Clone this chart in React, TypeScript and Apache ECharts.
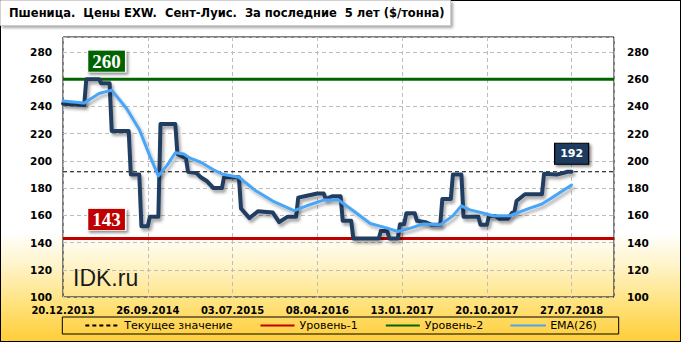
import React, { useEffect, useRef } from "react";
import * as echarts from "echarts";

// ---- axis / tick data ----
const START_DATE = "2013-12-20";
const X_TICK_LABELS = ["20.12.2013", "26.09.2014", "03.07.2015", "08.04.2016", "13.01.2017", "20.10.2017", "27.07.2018"];
const X_TICK_STEP_DAYS = 280;
const X_SPAN_DAYS = 1820;
const Y_MIN = 100;
const Y_MAX = 291;
const Y_STEP = 20;

// ---- levels ----
const LEVEL_1 = 143;
const LEVEL_2 = 260;
const CURRENT_VALUE = 192;

// ---- price series (weekly, breakpoints) ----
const priceDates = [
  "2013-12-20", "2014-02-28", "2014-03-07", "2014-04-18", "2014-04-25", "2014-05-23", "2014-05-30", "2014-07-25",
  "2014-08-01", "2014-08-29", "2014-09-05", "2014-09-26", "2014-10-03", "2014-10-31", "2014-11-07", "2014-12-26",
  "2015-01-02", "2015-01-30", "2015-02-06", "2015-03-06", "2015-03-20", "2015-04-10", "2015-05-01", "2015-05-29",
  "2015-06-05", "2015-07-24", "2015-07-31", "2015-08-28", "2015-09-25", "2015-11-13", "2015-12-04", "2016-01-01",
  "2016-01-29", "2016-02-05", "2016-02-26", "2016-04-08", "2016-04-29", "2016-05-06", "2016-05-27", "2016-06-24",
  "2016-07-01", "2016-07-29", "2016-08-05", "2016-10-28", "2016-11-04", "2016-11-25", "2016-12-02", "2016-12-30",
  "2017-01-06", "2017-01-20", "2017-01-27", "2017-02-24", "2017-03-03", "2017-03-31", "2017-04-21", "2017-05-19",
  "2017-05-26", "2017-06-23", "2017-06-30", "2017-07-28", "2017-08-04", "2017-09-22", "2017-09-29", "2017-10-20",
  "2017-10-27", "2017-11-17", "2017-12-01", "2017-12-29", "2018-01-12", "2018-01-19", "2018-01-26", "2018-02-23",
  "2018-04-20", "2018-04-27", "2018-06-08", "2018-06-29", "2018-07-13", "2018-07-27",
];
const priceValues = [
  242, 241, 260, 260, 257, 257, 222, 222,
  190, 190, 152, 152, 159, 159, 227, 227,
  205, 202, 192, 191, 188, 185, 180, 180,
  188, 188, 165, 158, 163, 162, 155, 159,
  159, 173, 174, 176, 176, 172, 174, 174,
  156, 156, 143, 143, 148.5, 148.5, 143, 143,
  153.5, 153.5, 161.5, 161.5, 156, 155, 153, 153,
  172, 172, 190, 190, 159, 159, 153, 153,
  159.5, 159.5, 157.5, 157.5, 162, 162.5, 170.5, 175.5,
  175.5, 190.5, 190, 191, 192, 192,
];

// ---- EMA(26) ----
const emaDates = [
  "2013-12-20", "2014-02-28", "2014-04-18", "2014-05-30", "2014-07-18", "2014-08-29", "2014-10-03", "2014-10-31",
  "2014-11-28", "2014-12-26", "2015-01-23", "2015-02-13", "2015-03-20", "2015-05-01", "2015-05-29", "2015-07-24",
  "2015-09-18", "2015-11-13", "2016-01-22", "2016-03-04", "2016-04-29", "2016-06-17", "2016-08-05", "2016-09-30",
  "2016-11-25", "2016-12-30", "2017-02-10", "2017-03-24", "2017-05-19", "2017-06-30", "2017-07-28", "2017-08-25",
  "2017-10-06", "2017-11-10", "2018-01-05", "2018-03-02", "2018-04-20", "2018-05-25", "2018-07-27",
];
const emaValues = [
  244, 242.5, 249.5, 252, 238.5, 223, 203.5, 189,
  196.5, 206, 205, 202, 199, 193.5, 190.4, 188,
  178, 170.5, 163.4, 167, 171.2, 171.2, 163.4, 154,
  150.6, 148.1, 150.6, 153.6, 153, 159.7, 167, 164,
  161.7, 159.7, 159.7, 164.6, 168.3, 173.2, 182.3,
];

const DAY_MS = 86400000;
const toDay = (s: string) => {
  const [y, m, d] = s.split("-").map(Number);
  const [y0, m0, d0] = START_DATE.split("-").map(Number);
  return Math.round((Date.UTC(y, m - 1, d) - Date.UTC(y0, m0 - 1, d0)) / DAY_MS);
};

const priceData = priceDates.map((d, i) => [toDay(d), priceValues[i]]);
const emaData = emaDates.map((d, i) => [toDay(d), emaValues[i]]);
const lastPoint = priceData[priceData.length - 1];

const AXIS_FONT = "DejaVu Sans";

export default function App() {
  const ref = useRef<HTMLDivElement>(null);

  useEffect(() => {
    const chart = echarts.init(ref.current!, null, { renderer: "svg" });
    const levelLine = (name: string, value: number, style: any, markPoint?: any) => ({
      name,
      type: "line",
      data: [[0, value], [X_SPAN_DAYS, value]],
      symbol: "none",
      silent: true,
      lineStyle: style,
      z: 3,
      markPoint,
    });
    const boxLabel = (value: number, color: string, dx: number, dy: number, size: number[], font: any, border?: string) => ({
      symbol: "rect",
      symbolSize: size,
      symbolOffset: [0, dy],
      silent: true,
      itemStyle: {
        color,
        borderColor: border || "#ffffff",
        borderWidth: 1,
        shadowBlur: 3,
        shadowColor: "rgba(0,0,0,0.45)",
        shadowOffsetX: 2,
        shadowOffsetY: 2,
      },
      label: {
        show: true,
        position: "inside",
        formatter: String(value),
        color: "#ffffff",
        ...font,
      },
      data: [{ coord: [dx, value] }],
    });

    const option: any = {
      animation: false,
      backgroundColor: "transparent",
      title: {
        text: "Пшеница.  Цены EXW.  Сент-Луис.  За последние  5 лет ($/тонна)",
        left: 0,
        top: 0,
        padding: [7, 6, 7, 9],
        backgroundColor: "#ffffff",
        borderColor: "#d0d0d0",
        borderWidth: 1,
        shadowBlur: 3,
        shadowColor: "rgba(0,0,0,0.35)",
        shadowOffsetX: 2,
        shadowOffsetY: 2,
        textStyle: { fontFamily: AXIS_FONT, fontWeight: "bold", fontSize: 11.5, color: "#000" },
      },
      grid: {
        left: 63,
        right: 67,
        top: 37,
        bottom: 45,
        show: true,
        borderColor: "#000",
        borderWidth: 1,
        backgroundColor: "transparent",
        containLabel: false,
      },
      legend: {
        data: ["Текущее значение", "Уровень-1", "Уровень-2", "EMA(26)"],
        left: "center",
        top: 317,
        itemWidth: 34,
        itemHeight: 10,
        itemGap: 27,
        padding: [3, 22, 3, 22],
        borderColor: "#000",
        borderWidth: 1,
        backgroundColor: "transparent",
        itemStyle: { opacity: 0 },
        textStyle: { fontFamily: AXIS_FONT, fontSize: 11, color: "#000" },
        selectedMode: false,
      },
      xAxis: {
        type: "value",
        min: 0,
        max: X_SPAN_DAYS,
        interval: X_TICK_STEP_DAYS,
        axisLine: { show: false },
        axisTick: { show: false },
        splitLine: { show: true, lineStyle: { color: "#bdbdbd", type: [4, 3], width: 1 } },
        axisLabel: {
          showMaxLabel: false,
          margin: 8,
          fontFamily: AXIS_FONT,
          fontWeight: "bold",
          fontSize: 10,
          color: "#000",
          formatter: (v: number) => X_TICK_LABELS[Math.round(v / X_TICK_STEP_DAYS)] ?? "",
        },
      },
      yAxis: [
        {
          type: "value",
          position: "left",
          min: Y_MIN,
          max: Y_MAX,
          interval: Y_STEP,
          axisLine: { show: false },
          axisTick: { show: false },
          splitLine: { show: true, lineStyle: { color: "#bdbdbd", type: [4, 3], width: 1 } },
          axisLabel: {
            showMaxLabel: false,
            margin: 11,
            fontFamily: AXIS_FONT,
            fontWeight: "bold",
            fontSize: 10.5,
            color: "#000",
          },
        },
        {
          type: "value",
          position: "right",
          min: Y_MIN,
          max: Y_MAX,
          interval: Y_STEP,
          axisLine: { show: false },
          axisTick: { show: false },
          splitLine: { show: false },
          axisLabel: {
            showMaxLabel: false,
            margin: 13,
            fontFamily: AXIS_FONT,
            fontWeight: "bold",
            fontSize: 10.5,
            color: "#000",
          },
        },
      ],
      graphic: [
        {
          type: "text",
          left: 73,
          top: 266,
          silent: true,
          style: { text: "IDK.ru", font: "23px 'Liberation Sans'", fill: "#1a1a1a" },
        },
      ],
      series: [
        levelLine("Текущее значение", CURRENT_VALUE, { color: "#000", width: 1, type: [4, 3] }),
        levelLine(
          "Уровень-1",
          LEVEL_1,
          { color: "#c00000", width: 3 },
          boxLabel(LEVEL_1, "#c00000", 144, -19, [38, 22], { fontFamily: "Liberation Serif", fontWeight: "bold", fontSize: 19 })
        ),
        levelLine(
          "Уровень-2",
          LEVEL_2,
          { color: "#006600", width: 3 },
          boxLabel(LEVEL_2, "#006400", 144, -18, [38, 22], { fontFamily: "Liberation Serif", fontWeight: "bold", fontSize: 19 })
        ),
        {
          name: "Цена",
          type: "line",
          data: priceData,
          symbol: "none",
          silent: true,
          z: 4,
          lineStyle: {
            color: "#203d62",
            width: 4,
            cap: "round",
            join: "round",
            shadowBlur: 3,
            shadowColor: "rgba(0,0,0,0.35)",
            shadowOffsetX: 2,
            shadowOffsetY: 3,
          },
          markPoint: {
            ...boxLabel(CURRENT_VALUE, "#1c3a5e", lastPoint[0], -18, [34, 21], { fontFamily: AXIS_FONT, fontWeight: "bold", fontSize: 11 }, "#000"),
            data: [{ coord: lastPoint }],
          },
        },
        {
          name: "EMA(26)",
          type: "line",
          data: emaData,
          symbol: "none",
          silent: true,
          smooth: false,
          z: 5,
          lineStyle: {
            color: "#4aa5f5",
            width: 3,
            cap: "round",
            join: "round",
            shadowBlur: 3,
            shadowColor: "rgba(0,0,0,0.3)",
            shadowOffsetX: 2,
            shadowOffsetY: 3,
          },
        },
      ],
    };
    chart.setOption(option);
    return () => chart.dispose();
  }, []);

  return (
    <div
      ref={ref}
      style={{
        position: "fixed",
        left: 0,
        top: 0,
        width: 681,
        height: 342,
        background:
          "linear-gradient(to bottom, #ffffff 0%, #ffffff 68%, #fff3c6 78%, #ffe27c 89%, #ffcd36 100%)",
        boxShadow: "inset 0 0 0 1px #000",
      }}
    />
  );
}
